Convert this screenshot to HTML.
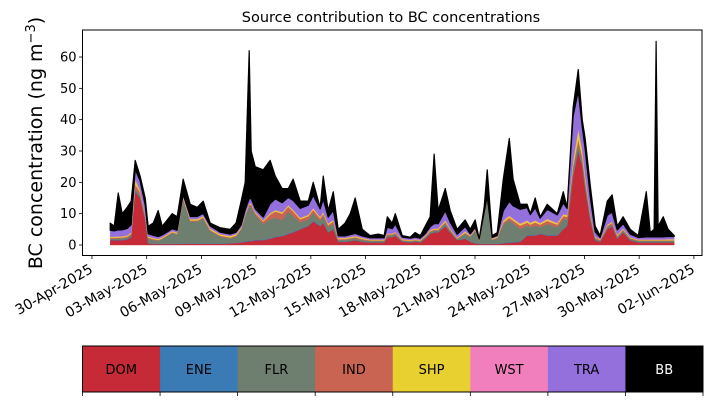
<!DOCTYPE html>
<html><head><meta charset="utf-8"><style>
html,body{margin:0;padding:0;background:#fff;width:711px;height:402px;overflow:hidden}
svg{display:block;font-family:"DejaVu Sans","Liberation Sans",sans-serif}
</style></head><body>
<svg id="chart" width="711" height="402" viewBox="0 0 711 402">
<text x="391" y="22" text-anchor="middle" font-size="14.5">Source contribution to BC concentrations</text>
<text transform="translate(42,143) rotate(-90)" text-anchor="middle" font-size="19">BC concentration (ng m<tspan baseline-shift="super" font-size="13">−3</tspan>)</text>
<g id="areas"></g>
<g id="axes"></g>
<g id="legend"></g>
</svg>
<script>
// time in days since 01-May-2025 00:00
const times=[0,.22,.44,.66,.93,1.15,1.37,1.64,1.92,2.08,2.36,2.63,2.85,3.13,3.4,3.67,4.0,4.39,4.77,5.1,5.48,6.03,6.58,6.9,7.18,7.4,7.62,7.73,7.95,8.39,8.77,9.05,9.43,9.76,10.03,10.42,10.86,11.13,11.51,11.68,11.95,12.23,12.5,12.88,13.16,13.43,13.82,14.25,14.69,15.02,15.19,15.46,15.63,16.01,16.45,16.72,17,17.27,17.54,17.76,17.98,18.37,18.64,19.02,19.46,19.74,20.01,20.23,20.5,20.67,20.94,21.22,21.55,21.88,22.09,22.48,22.86,23.03,23.3,23.57,23.96,24.51,24.84,25.05,25.38,25.66,25.88,26.04,26.32,26.59,26.86,27.25,27.52,27.8,28.12,28.51,28.95,29.39,29.61,29.82,29.93,30.04,30.32,30.59,30.92];
const DOM=[1.5,1.5,1.5,1.5,1.8,2.5,17,15,8,.5,.3,.3,.3,.3,.3,.3,.4,.4,.4,.4,.4,.4,.5,.6,.8,1,1.2,1.2,1.5,1.5,2,2.5,2.8,3.5,4,5,6,7.5,6,7,4,5,1,1,1.2,1.5,1,.8,.8,.8,2.5,2.5,3,1,.8,1,.8,2,3.5,4,4,6,4,1.5,2,1,.5,.3,.3,.3,.3,.3,.5,.7,.8,1,3,3,3,3.5,3,3,5,6,22,30,25,18,8,1.5,1,5,6,2,4,1.5,.8,.8,.8,.8,.8,.8,.8,.8,.8];
const ENE=[.2,.2,.2,.2,.2,.2,.3,.3,.2,.1,.1,.1,.1,.1,.1,.1,.1,.1,.1,.1,.1,.1,.1,.1,.1,.2,.2,.2,.2,.2,.2,.2,.2,.2,.2,.2,.2,.2,.2,.2,.2,.2,.1,.1,.1,.1,.1,.1,.1,.1,.1,.1,.1,.1,.1,.1,.1,.1,.1,.1,.1,.1,.1,.1,.1,.1,.1,.1,.1,.1,.1,.1,.2,.2,.2,.2,.2,.2,.2,.2,.2,.2,.2,.2,.3,.3,.3,.3,.2,.1,.1,.1,.1,.1,.1,.1,.1,.1,.1,.1,.1,.1,.1,.1,.1];
const FLR=[.3,.3,.4,.4,.4,.5,.6,.5,.5,1.5,1.2,1,1.5,2.5,3.5,3,14,7,7,8,4,2.2,1.5,2,4,8,11,11,8,5,6,6,5,7,5,2,2,2.5,1.5,2,1.5,1.5,.5,.5,.6,.6,.5,.4,.4,.4,.5,.5,.5,.3,.3,.3,.3,.4,.5,.5,.5,.8,.5,.3,1.5,1.5,4,1,9,14,1.2,1.8,6,7,6,4,3,2.5,3,2,3.5,2.5,3,2,2,2,1.5,1.5,1,.5,.3,.5,.5,.5,.5,.4,.4,.4,.4,.4,.4,.4,.4,.4,.4];
const IND=[.3,.3,.3,.3,.3,.4,1.5,1,.6,.3,.3,.2,.2,.2,.2,.2,.3,.3,.3,.3,.3,.3,.3,.3,.3,.4,.5,.5,.5,.8,1.5,2,2,1.5,1.5,1,1,1,.8,.8,.7,.8,.3,.3,.3,.3,.3,.2,.2,.2,.3,.3,.3,.2,.2,.2,.2,.2,.3,.3,.3,.4,.3,.2,.3,.2,.2,.1,.2,.3,.2,.2,.5,.8,.8,1,1,.8,1,.8,1,.8,1,.8,1,1.5,1.5,1,.5,.3,.2,.5,.5,.3,.3,.2,.2,.2,.2,.2,.2,.2,.2,.2,.2];
const SHP=[.3,.3,.3,.3,.3,.3,1.5,.5,.3,.3,.3,.3,.3,.3,.3,.3,.4,.4,.4,.4,.4,.4,.4,.4,.3,.3,.3,.3,.3,.3,.4,.4,.4,.4,.4,.4,.4,.5,.4,.5,.4,.4,.3,.3,.3,.3,.3,.2,.2,.2,.2,.2,.2,.2,.2,.2,.2,.2,.3,.3,.3,.5,.3,.2,.4,.2,.2,.1,.2,.2,.2,.2,.5,.5,.5,.5,.5,.5,.5,.4,.5,.4,.5,.5,1.5,3,2,1.5,.5,.2,.2,.3,.3,.3,.3,.2,.2,.2,.2,.2,.2,.2,.2,.3,.3];
const WST=[.1,.1,.1,.1,.1,.1,.2,.2,.1,.1,.1,.1,.1,.1,.1,.1,.1,.1,.1,.1,.1,.1,.1,.1,.1,.1,.1,.1,.1,.1,.1,.1,.1,.1,.1,.1,.1,.1,.1,.1,.1,.1,.1,.1,.1,.1,.1,.1,.1,.1,.1,.1,.1,.1,.1,.1,.1,.1,.1,.1,.1,.1,.1,.1,.1,.1,.1,.1,.1,.1,.1,.1,.2,.2,.2,.2,.2,.2,.2,.2,.2,.2,.2,.2,.3,.3,.3,.3,.2,.1,.1,.1,.1,.1,.1,.1,.1,.1,.1,.1,.1,.1,.1,.1,.1];
const TRA=[2,1.8,2,2,2.2,2.5,3,3,3,.8,.8,.7,.7,.7,.7,.7,.8,.8,.8,.8,.8,.6,.6,.6,.8,1.2,1.5,1.5,1,1,3,3.5,3,2.5,3,3,3,4,2.5,4,2,3,.6,.6,.7,.8,.6,.5,.5,.5,2,1.5,2.5,.6,.5,.6,.5,.6,1,1.5,1.5,3,2,1,1.5,.5,.5,.2,.3,.4,.3,.3,3,4.5,4,4.5,4,2.5,4,1.5,3,2.5,3.5,2,14,12,7,8,5,1.5,.5,3,3,1.5,1.5,1,.6,.8,.8,.8,.8,.8,.8,.8,.8];
const BB=[2.3,1.5,11.8,5.2,6.7,7.5,2.9,1.5,2.3,2.4,3.9,8.3,2.8,3.8,4.8,4.3,4.9,3.9,2.9,3.9,.9,1.4,1.5,2.9,7.6,8.8,47.2,15.2,13.4,15.1,13.8,7.3,4.5,2.8,6.8,2.3,1.3,4.2,.5,7.4,2.1,6,2.1,4.1,6.7,11.3,2.1,.7,1.2,.7,3.3,1.8,3.3,.5,.3,1.5,.8,2.4,3.2,22.2,4.2,7.1,3.7,1.6,2.1,1.4,2.4,.1,1.8,8.6,.6,1,10.1,20.1,8.5,1.6,1.1,.3,3.1,.4,1.6,.4,3.6,.3,2.9,6.9,2.4,3.4,3.6,1.8,.6,4.5,5.5,1.2,2.2,1.5,.6,14.4,1.4,2.4,62.4,3.4,6.4,2.3,.3];
const seriesNames=["DOM","ENE","FLR","IND","SHP","WST","TRA","BB"];
const seriesColors=["#c52a36","#3a7ab5","#6f7f6f","#c96452","#e7d030","#f17fbe","#9370db","#000000"];
const yTicks=[0,10,20,30,40,50,60];
const xTickLabels=["30-Apr-2025","03-May-2025","06-May-2025","09-May-2025","12-May-2025","15-May-2025","18-May-2025","21-May-2025","24-May-2025","27-May-2025","30-May-2025","02-Jun-2025"];
const xTickDays=[-1,2,5,8,11,14,17,20,23,26,29,32]; // days since 01-May

const NS="http://www.w3.org/2000/svg";
const L=82.5,R=702,T=30,B=255.5;
const xs=d=>110.2+d*18.24;
const ys=v=>245-v*3.133;
function mk(tag,attrs,parent){const e=document.createElementNS(NS,tag);for(const k in attrs)e.setAttribute(k,attrs[k]);parent.appendChild(e);return e;}
const areas=document.getElementById('areas'),axes=document.getElementById('axes'),legend=document.getElementById('legend');
const all=[DOM,ENE,FLR,IND,SHP,WST,TRA,BB];
let base=times.map(()=>0);
all.forEach((s,k)=>{
  const top=base.map((b,i)=>b+s[i]);
  let d="M"+times.map((t,i)=>xs(t).toFixed(2)+","+ys(top[i]).toFixed(2)).join("L");
  for(let i=times.length-1;i>=0;i--)d+="L"+xs(times[i]).toFixed(2)+","+ys(base[i]).toFixed(2);
  d+="Z";
  const p=mk('path',{d:d,fill:seriesColors[k],stroke:seriesColors[k],'stroke-width':k===7?1.2:0.4,'stroke-linejoin':'round'},areas);
  
  
  base=top;
});
const frame=mk('rect',{x:L,y:T,width:R-L,height:B-T,fill:'none',stroke:'#000','stroke-width':1},axes);


yTicks.forEach(v=>{
  const y=ys(v);
  mk('line',{x1:L-3.5,x2:L,y1:y,y2:y,stroke:'#000','stroke-width':0.8},axes);
  const t=mk('text',{x:L-6,y:y+4.5,'text-anchor':'end','font-size':13},axes);
  t.textContent=v;
  
  
});
xTickDays.forEach((d,i)=>{
  const x=xs(d);
  mk('line',{x1:x,x2:x,y1:B,y2:B+3.5,stroke:'#000','stroke-width':0.8},axes);
  const t=mk('text',{transform:`translate(${x-3},${B+8}) rotate(-30)`,'text-anchor':'end','dominant-baseline':'hanging','font-size':14},axes);
  t.textContent=xTickLabels[i];
  
  
});
const LX=82.5,LW=(703-82.5)/8,LY=346,LH=46;
seriesNames.forEach((n,k)=>{
  const r=mk('rect',{x:LX+k*LW,y:LY,width:LW+0.5,height:LH,fill:seriesColors[k]},legend);
  
  
  const t=mk('text',{x:LX+k*LW+LW/2,y:LY+LH/2+5,'text-anchor':'middle','font-size':13,fill:k===7?'#fff':'#000'},legend);
  t.textContent=n;
  
  
});
mk('rect',{x:LX,y:LY,width:703-LX,height:LH,fill:'none',stroke:'#000','stroke-width':1},legend);
for(let k=0;k<=8;k++){const x=LX+k*LW;mk('line',{x1:x,x2:x,y1:LY+LH,y2:LY+LH+4,stroke:'#000','stroke-width':0.8},legend);}
</script>
</body></html>
